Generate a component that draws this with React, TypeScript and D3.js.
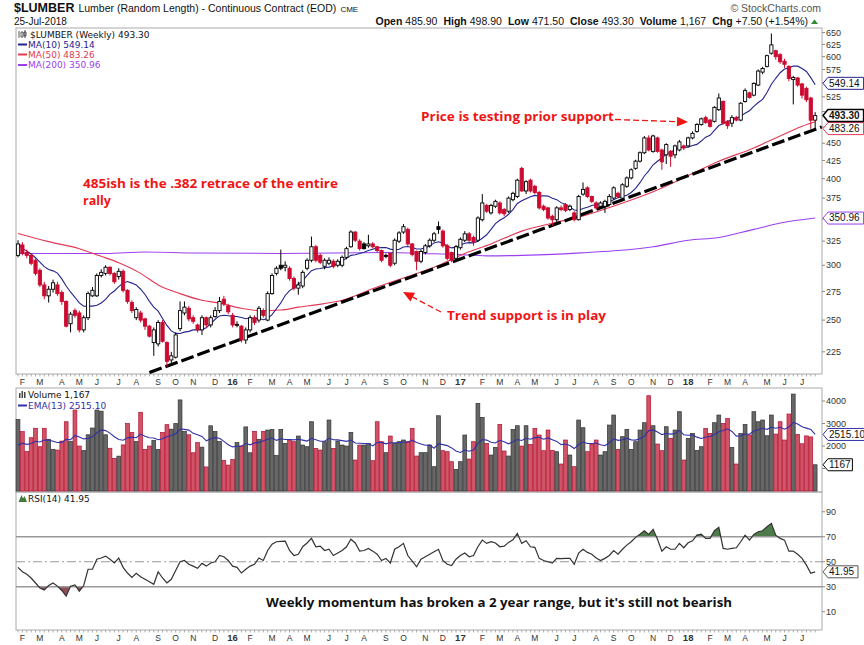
import React, { useRef, useEffect } from "react";
import * as d3 from "d3";

// weekly bars start on Monday 26-Jan-2015
const firstWeek = new Date(2015, 0, 26);

// [open, high, low, close]
const bars2015 = [
  [310, 326, 308, 322], [321, 324, 310, 312], [313, 316, 307, 310], [310, 312, 300, 302], [305, 307, 290, 292],
  [295, 297, 279, 281], [281, 284, 268, 271], [271, 280, 265, 277], [277, 286, 274, 283], [281, 284, 271, 273],
  [274, 276, 263, 266], [266, 267, 244, 245], [247, 257, 240, 255], [258, 260, 252, 254], [256, 258, 240, 242],
  [242, 254, 240, 252], [252, 275, 250, 273], [271, 279, 270, 276], [271, 292, 270, 290], [290, 296, 288, 293],
  [292, 300, 290, 298], [298, 299, 290, 292], [292, 293, 282, 284], [289, 297, 286, 294], [294, 296, 274, 276],
  [276, 277, 264, 266], [265, 267, 256, 258], [252, 261, 250, 259], [256, 258, 248, 250], [251, 252, 242, 245],
  [245, 246, 236, 237], [232, 244, 222, 242], [231, 250, 229, 248], [248, 250, 232, 233], [232, 233, 214, 218],
  [219, 225, 216, 222], [221, 240, 220, 238], [243, 266, 241, 258], [256, 266, 254, 261], [260, 262, 249, 251],
  [252, 254, 247, 249], [246, 247, 240, 242], [242, 254, 238, 252], [252, 253, 244, 246], [246, 254, 244, 252],
  [253, 261, 252, 258], [258, 270, 256, 266], [268, 271, 262, 264], [262, 264, 255, 257],
];
const bars2016 = [
  [254, 256, 244, 246], [246, 249, 244, 246.5], [245, 246, 232, 234], [234, 244, 231, 242], [242, 254, 240, 252],
  [252, 254, 246, 248], [250, 262, 248, 260], [258, 260, 252, 254], [250, 275, 249, 273], [273, 292, 272, 290],
  [292, 299, 290, 297], [300, 316, 295, 297], [298, 304, 294, 300], [297, 299, 285, 287], [287, 289, 276, 278],
  [278, 284, 272, 281], [280, 295, 278, 293], [297, 307, 295, 305], [305, 330, 303, 319], [319, 321, 303, 305],
  [310, 312, 301, 303], [299, 307, 296, 305], [302, 308, 300, 305], [304, 306, 297, 299], [300, 306, 298, 304],
  [300, 310, 298, 308], [308, 319, 306, 317], [319, 337, 318, 335], [335, 336, 324, 326], [325, 327, 315, 317],
  [322, 324, 316, 317], [320, 332, 318, 322], [322, 324, 317, 319], [319, 320, 313, 315], [315, 316, 303, 305],
  [310, 312, 307, 309], [312, 313, 298, 300], [302, 328, 300, 326], [325, 336, 323, 334], [335, 344, 333, 341],
  [338, 340, 320, 322], [322, 323, 309, 311], [314, 315, 295, 304], [304, 316, 302, 314], [313, 322, 311, 320],
  [320, 328, 318, 326], [326, 335, 324, 333], [341, 347, 333, 338], [336, 338, 318, 320], [320, 322, 305, 307],
  [313, 314, 303, 305], [307, 321, 305, 319],
];
const bars2017 = [
  [318, 329, 316, 327], [326, 336, 324, 333], [333, 335, 324, 326], [329, 331, 320, 324], [326, 353, 324, 351],
  [349, 380, 347, 369], [366, 368, 357, 359], [357, 368, 355, 366], [365, 373, 363, 371], [369, 371, 355, 357],
  [361, 363, 353, 356], [359, 377, 357, 375], [373, 383, 371, 381], [377, 400, 375, 398], [414, 416, 383, 384],
  [384, 398, 380, 396], [398, 400, 382, 384], [390, 392, 380, 382], [382, 384, 361, 363], [365, 367, 359, 361],
  [363, 364, 349, 351], [353, 355, 342, 349], [349, 365, 344, 363], [363, 366, 359, 361], [367, 369, 358, 360],
  [361, 367, 359, 365], [357, 359, 347, 349], [349, 379, 348, 377], [380, 395, 378, 386], [388, 390, 375, 377],
  [377, 378, 369, 371], [369, 371, 361, 363], [365, 371, 363, 369], [365, 373, 357, 371], [367, 380, 365, 377],
  [375, 390, 373, 388], [381, 383, 375, 377], [375, 394, 373, 392], [390, 403, 388, 401], [401, 414, 399, 412],
  [414, 426, 412, 424], [424, 438, 422, 436], [436, 461, 434, 458], [458, 462, 438, 440], [438, 463, 436, 461],
  [458, 460, 436, 438], [440, 442, 412, 423], [433, 450, 420, 448], [438, 440, 416, 431], [433, 448, 428, 446],
  [440, 455, 438, 452], [446, 448, 440, 443],
];
const bars2018 = [
  [446, 460, 444, 458], [458, 468, 456, 465], [468, 481, 466, 479], [479, 490, 477, 488], [490, 493, 480, 482],
  [486, 488, 474, 476], [484, 509, 482, 507], [503, 531, 501, 523], [517, 519, 479, 481], [484, 486, 472, 477],
  [481, 494, 475, 490], [490, 493, 484, 486], [486, 516, 484, 514], [517, 540, 515, 536], [532, 534, 522, 524],
  [528, 551, 526, 549], [546, 575, 544, 572], [570, 580, 566, 577], [581, 604, 579, 602], [607, 648, 604, 624],
  [612, 614, 594, 600], [604, 607, 586, 590], [591, 596, 578, 585], [581, 583, 553, 558], [556, 563, 512, 560],
  [559, 561, 543, 546], [548, 550, 522, 528], [540, 543, 516, 520], [523, 525, 472, 485.8], [485.9, 498.9, 471.5, 493.3],
];

const volume2015 = [
  3180, 2640, 1750, 2370, 2790, 1970, 2790, 2300, 1850, 1820, 2220, 3080, 2200, 3600, 2000, 1800, 2500,
  2800, 3600, 3550, 2500, 1900, 1450, 1550, 2050, 3000, 2600, 2200, 3500, 1850, 2000, 2250, 1850, 2600,
  2950, 2750, 3000, 4050, 2650, 2500, 1700, 2150, 1950, 1070, 2900, 2650, 2200, 1350, 1150,
];
const volume2016 = [
  1400, 2150, 2000, 2850, 1700, 2650, 2300, 2650, 2711, 2741, 1580, 2741, 2119, 2267, 2193, 2444, 2044,
  1970, 3081, 1896, 1822, 2193, 3156, 1896, 2222, 2044, 2000, 2607, 1378, 2044, 2044, 2119, 1348, 3081,
  2193, 1704, 2444, 2119, 2193, 2267, 2193, 2785, 1556, 1704, 1704, 2044, 1080, 3346, 1793, 1748, 1304, 964,
];
const volume2017 = [
  1304, 2489, 1422, 2193, 3896, 3274, 2119, 1600, 1940, 2963, 1778, 1556, 2741, 2903, 2000, 2903, 2074,
  2785, 2489, 1793, 2711, 1807, 1748, 1200, 2267, 1600, 1081, 3156, 2815, 1748, 2089, 2267, 1600, 1748,
  2933, 3378, 1852, 2415, 2741, 1852, 2193, 2711, 3037, 4237, 2903, 2089, 1793, 2859, 2341, 2711, 3526, 1378,
];
const volume2018 = [
  2341, 2563, 1807, 1970, 2785, 2563, 3037, 3378, 3007, 3230, 1941, 1200, 2563, 2963, 2489, 3526, 3081,
  3156, 2459, 3378, 2533, 3081, 2267, 3422, 4311, 2518, 2100, 2450, 2405, 1167,
];
const volumeEmaStart = 1850;

const rsi2015 = [
  45.5, 42, 40, 37, 33, 29, 27.3, 31, 33, 30.5, 27, 22.5, 30.5, 31.5, 26.5, 31, 44, 44, 52, 53, 54.5, 52,
  49, 53, 45.5, 41, 37.5, 40.7, 38, 36, 34, 32, 42, 37, 33, 36, 43, 50, 51, 48, 46.5, 44.7, 48.7, 46.5,
  49, 50, 55, 54, 51,
];
const rsi2016 = [
  46.5, 45.5, 41, 44, 46.5, 48, 53, 51, 59, 64, 66, 66.3, 66.5, 59, 55, 56, 62, 65, 68.7, 62, 62.5, 59,
  60, 55, 57, 59, 62, 68, 65, 58.5, 59, 60.7, 58.5, 56, 51, 52.7, 49, 60, 62, 64.7, 55, 50.5, 46, 52, 54,
  56, 58, 60, 51, 48, 47, 52,
];
const rsi2017 = [
  55, 57, 54, 55, 62, 67.3, 64.7, 66, 65, 62, 62.5, 65.5, 67.5, 72.7, 64.7, 66.8, 62, 61.5, 52.7, 51, 50,
  49, 52.7, 52.5, 52.7, 52.7, 48, 57, 60, 57.5, 56, 53, 51, 52.7, 55, 59, 56, 60, 63.3, 66, 69.5, 72,
  74.8, 71.9, 75.9, 68, 58.5, 62, 60, 60, 64.7, 61.2,
];
const rsi2018 = [
  65.2, 66.8, 71.3, 72, 68.7, 68.7, 74.8, 77.5, 60.7, 60, 60.7, 61.2, 66, 71.3, 67.3, 71.9, 74, 74.8, 78,
  80.7, 71.3, 68.7, 67.3, 58.5, 58.5, 56, 52.7, 47.3, 40.7, 41.95,
];

// moving averages as [week, value]
const ma50Points: [number, number][] = [
  [0, 333.5], [7, 324.5], [14, 317], [19, 309], [23, 302.5], [28, 292], [32, 281], [37, 273], [42, 267],
  [46, 264.5], [51, 260], [55, 258], [60, 258.5], [64, 261], [68, 263], [74, 267], [82, 279], [89, 289],
  [95, 298], [102, 312], [108, 322], [115, 336], [122, 345], [128, 352], [137, 367], [145, 383], [153, 404],
  [160, 424], [168, 443], [172, 455], [176, 467], [179, 476], [182, 483.26],
];
const ma200Points: [number, number][] = [
  [0, 312], [20, 312], [29, 313.5], [40, 312.5], [60, 312], [85, 313], [92, 312], [100, 311], [107, 309.5],
  [115, 310], [122, 311], [130, 313], [137, 315], [145, 319], [153, 326], [160, 329], [168, 338], [175, 346],
  [182, 350.96],
];
const trendLine: [number, number][] = [[30, 210], [183.5, 475]];

const priceTicks = [225, 250, 275, 300, 325, 350, 375, 400, 425, 450, 475, 500, 525, 550, 575, 600, 625, 650];
const volumeTicks = [1000, 2000, 3000, 4000];
const rsiTicks = [10, 30, 50, 70, 90];
const quote = [["Open", "485.90"], ["High", "498.90"], ["Low", "471.50"], ["Close", "493.30"], ["Volume", "1,167"], ["Chg", "+7.50 (+1.54%)"]];

const RED = "#cc0a2f";
const MA10_COLOR = "#24248f";
const MA50_COLOR = "#e23a55";
const MA200_COLOR = "#9b3ff0";
const NOTE_RED = "#f01515";
const FONT = "'Liberation Sans', Arial, sans-serif";
const LEGEND_FONT = "'DejaVu Sans', Verdana, sans-serif";
const NOTE_FONT = "'Open Sans', 'Noto Sans', sans-serif";

const left = 16, right = 822;
const priceTop = 28, priceBottom = 374;
const volTop = 388, volBottom = 492;
const rsiTop = 492, rsiBottom = 630;

const App: React.FC = () => {
  const chartRef = useRef<SVGSVGElement | null>(null);

  useEffect(() => {
    if (!chartRef.current) return;
    const svg = d3.select(chartRef.current);
    svg.selectAll("*").remove();

    const bars = [...bars2015, ...bars2016, ...bars2017, ...bars2018];
    const volume = [...volume2015, ...volume2016, ...volume2017, ...volume2018];
    const rsi = [...rsi2015, ...rsi2016, ...rsi2017, ...rsi2018];
    const closes = bars.map((b) => b[3]);
    const dates = bars.map((_, i) => d3.timeDay.offset(firstWeek, i * 7));
    const weekTime = (w: number) => new Date(firstWeek.getTime() + w * 7 * 864e5);

    const x = d3.scaleTime().domain([weekTime(-0.457), weekTime(183.56)]).range([left, right]);
    const yPrice = d3.scaleLog().domain([209, 660]).range([priceBottom, priceTop]);
    const yVol = d3.scaleLinear().domain([0, 4580]).range([491, volTop]);
    const yRsi = d3.scaleLinear().domain([-4.6, 105.8]).range([rsiBottom, rsiTop]);

    const isUp = (i: number) => (i === 0 ? bars[0][3] >= bars[0][0] : bars[i][3] >= bars[i - 1][3]);

    let e = volumeEmaStart;
    const ema = volume.map((v) => (e = e + (2 / 14) * (v - e)));
    const lastEma = ema[ema.length - 1];
    const lastVol = volume[volume.length - 1];
    const lastRsi = rsi[rsi.length - 1];

    svg.append("rect").attr("width", 864).attr("height", 645).attr("fill", "#fff");

    const defs = svg.append("defs");
    const clip = (id: string, y0: number, y1: number) =>
      defs.append("clipPath").attr("id", id).append("rect")
        .attr("x", left).attr("y", y0).attr("width", right - left).attr("height", y1 - y0);
    clip("clipPrice", priceTop, priceBottom);
    clip("clipAbove70", rsiTop, yRsi(70));
    clip("clipBelow30", yRsi(30), rsiBottom);

    // ---- header ----
    const title = svg.append("text").attr("x", 14).attr("y", 12).attr("font-family", FONT).attr("fill", "#111");
    title.append("tspan").attr("font-size", 12.5).attr("font-weight", "bold").text("$LUMBER");
    title.append("tspan").attr("font-size", 10.5).attr("dx", 4).text("Lumber (Random Length) - Continuous Contract (EOD)");
    title.append("tspan").attr("font-size", 8).attr("dx", 4).text("CME");
    svg.append("text").attr("x", 14).attr("y", 25).attr("font-family", FONT).attr("font-size", 10)
      .attr("fill", "#111").text("25-Jul-2018");
    svg.append("text").attr("x", 821).attr("y", 12).attr("text-anchor", "end").attr("font-family", FONT)
      .attr("font-size", 10.5).attr("fill", "#555").text("\u00a9 StockCharts.com");
    const q = svg.append("text").attr("x", 808).attr("y", 25).attr("text-anchor", "end")
      .attr("font-family", FONT).attr("font-size", 10.5).attr("fill", "#111");
    quote.forEach(([k, v], i) => {
      q.append("tspan").attr("font-weight", "bold").attr("dx", i === 0 ? 0 : 6).text(k);
      q.append("tspan").attr("dx", 3).text(v);
    });
    svg.append("path").attr("d", "M811,24 L818,24 L814.5,19.5 Z").attr("fill", "#2e8b2e");

    // ---- panel frames ----
    [[priceTop, priceBottom], [volTop, volBottom], [rsiTop, rsiBottom]].forEach(([a, b]) =>
      svg.append("rect").attr("x", left).attr("y", a).attr("width", right - left).attr("height", b - a)
        .attr("fill", "none").attr("stroke", "#aaa"));

    // ---- date strips ----
    const months = d3.timeMonth.range(new Date(2015, 1, 1), new Date(2018, 7, 1));
    const monthTicks = months.map((m) => ({ m, i: dates.findIndex((d) => d >= m) })).filter((t) => t.i >= 0);
    [priceBottom, rsiBottom].forEach((row) => {
      const g = svg.append("g");
      g.selectAll("line.w").data(dates).join("line")
        .attr("x1", (d) => x(d)).attr("x2", (d) => x(d)).attr("y1", row).attr("y2", row + 2.5)
        .attr("stroke", "#999").attr("stroke-width", 0.8);
      g.selectAll("text").data(monthTicks).join("text")
        .attr("x", (t) => x(dates[t.i])).attr("y", row + 10.5).attr("text-anchor", "middle")
        .attr("font-family", FONT).attr("font-size", (t) => (t.m.getMonth() === 0 ? 9.5 : 8.5))
        .attr("font-weight", (t) => (t.m.getMonth() === 0 ? "bold" : "normal")).attr("fill", "#333")
        .text((t) => (t.m.getMonth() === 0 ? d3.timeFormat("%y")(t.m) : d3.timeFormat("%b")(t.m)[0]));
    });

    // ---- right axes (labels hidden where a value tag sits on top, as in the original) ----
    const axis = (ticks: number[], scale: (v: number) => number, tagValues: number[]) => {
      const tagYs = tagValues.map(scale);
      ticks.forEach((v) => {
        const yv = scale(v);
        svg.append("line").attr("x1", right).attr("x2", right + 3).attr("y1", yv).attr("y2", yv).attr("stroke", "#888");
        if (tagYs.some((t) => Math.abs(t - yv) < 8)) return;
        svg.append("text").attr("x", right + 4).attr("y", yv + 3.2).attr("font-family", FONT)
          .attr("font-size", 9).attr("fill", "#333").text(String(v));
      });
    };
    axis(priceTicks, yPrice, [350.96, 549.14, 483.26, 493.3]);
    axis(volumeTicks, yVol, [lastEma, lastVol]);
    axis(rsiTicks, yRsi, [lastRsi]);

    // ---- price panel ----
    const priceG = svg.append("g").attr("clip-path", "url(#clipPrice)");
    const lineIdx = d3.line<number>().x((_, i) => x(dates[i])).y((d) => yPrice(d));
    const linePts = d3.line<[number, number]>().x((p) => x(weekTime(p[0]))).y((p) => yPrice(p[1]));

    priceG.append("path").datum(ma200Points).attr("d", linePts.curve(d3.curveMonotoneX))
      .attr("fill", "none").attr("stroke", MA200_COLOR).attr("stroke-width", 1.1);
    priceG.append("path").datum(ma50Points).attr("d", linePts.curve(d3.curveMonotoneX))
      .attr("fill", "none").attr("stroke", MA50_COLOR).attr("stroke-width", 1.1);
    const ma10 = closes.map((_, i) => d3.mean(closes.slice(Math.max(0, i - 9), i + 1)) as number);
    priceG.append("path").datum(ma10).attr("d", lineIdx)
      .attr("fill", "none").attr("stroke", MA10_COLOR).attr("stroke-width", 1.1);

    priceG.append("path").datum(trendLine).attr("d", linePts.curve(d3.curveLinear))
      .attr("fill", "none").attr("stroke", "#000").attr("stroke-width", 3.2).attr("stroke-dasharray", "13,4");

    const candle = priceG.selectAll("g.c").data(bars).join("g").attr("class", "c");
    candle.append("line")
      .attr("x1", (_, i) => x(dates[i])).attr("x2", (_, i) => x(dates[i]))
      .attr("y1", (b) => yPrice(b[1])).attr("y2", (b) => yPrice(b[2]))
      .attr("stroke", (_, i) => (isUp(i) ? "#000" : RED)).attr("stroke-width", 1);
    candle.append("rect")
      .attr("x", (_, i) => x(dates[i]) - 1.6).attr("width", 3.2)
      .attr("y", (b) => yPrice(Math.max(b[0], b[3])))
      .attr("height", (b) => Math.max(1, yPrice(Math.min(b[0], b[3])) - yPrice(Math.max(b[0], b[3]))))
      .attr("fill", (b, i) => (b[3] < b[0] ? (isUp(i) ? "#000" : RED) : "#fff"))
      .attr("stroke", (_, i) => (isUp(i) ? "#000" : RED)).attr("stroke-width", 0.9);

    // ---- volume panel ----
    svg.append("g").selectAll("rect").data(volume).join("rect")
      .attr("x", (_, i) => x(dates[i]) - 1.9).attr("width", 3.8)
      .attr("y", (v) => yVol(v)).attr("height", (v) => yVol(0) - yVol(v))
      .attr("fill", (_, i) => (isUp(i) ? "#676767" : "#cf5468"))
      .attr("stroke", (_, i) => (isUp(i) ? "#333" : "#b3102e")).attr("stroke-width", 0.7);
    svg.append("path").datum(ema).attr("d", d3.line<number>().x((_, i) => x(dates[i])).y((d) => yVol(d)))
      .attr("fill", "none").attr("stroke", "#3030a8").attr("stroke-width", 1.1);

    // ---- RSI panel ----
    const rsiArea = (level: number) =>
      d3.area<number>().x((_, i) => x(dates[i])).y0(yRsi(level)).y1((d) => yRsi(d));
    svg.append("path").datum(rsi).attr("d", rsiArea(70)).attr("fill", "#4d7b49").attr("clip-path", "url(#clipAbove70)");
    svg.append("path").datum(rsi).attr("d", rsiArea(30)).attr("fill", "#8e4d52").attr("clip-path", "url(#clipBelow30)");
    [70, 30].forEach((v) =>
      svg.append("line").attr("x1", left).attr("x2", right).attr("y1", yRsi(v)).attr("y2", yRsi(v))
        .attr("stroke", "#999").attr("stroke-width", 1.3));
    svg.append("line").attr("x1", left).attr("x2", right).attr("y1", yRsi(50)).attr("y2", yRsi(50))
      .attr("stroke", "#999").attr("stroke-width", 1.1).attr("stroke-dasharray", "9,3,2,3");
    svg.append("path").datum(rsi).attr("d", d3.line<number>().x((_, i) => x(dates[i])).y((d) => yRsi(d)))
      .attr("fill", "none").attr("stroke", "#333").attr("stroke-width", 1.2);

    // ---- value tags on the right ----
    const tag = (yv: number, label: string, color: string, bold = false) => {
      const w = label.length * 5.6 + 8;
      svg.append("path").attr("d", `M${right + 1},${yv}L${right + 6},${yv - 6}H${right + w}V${yv + 6}H${right + 6}Z`)
        .attr("fill", "#fff").attr("stroke", color).attr("stroke-width", bold ? 1.5 : 1);
      svg.append("text").attr("x", right + 7).attr("y", yv + 3.4).attr("font-family", FONT).attr("font-size", 10)
        .attr("font-weight", bold ? "bold" : "normal").attr("fill", "#111").text(label);
    };
    const closeY = yPrice(493.3);
    tag(yPrice(350.96), "350.96", MA200_COLOR);
    tag(yPrice(549.14), "549.14", MA10_COLOR);
    // the MA(50) tag sits just under the last-price tag
    tag(Math.max(yPrice(483.26), closeY + 13), "483.26", MA50_COLOR);
    tag(closeY, "493.30", "#000", true);
    tag(yVol(lastEma), d3.format(".2f")(lastEma), "#3030a8");
    tag(yVol(lastVol), String(lastVol), "#000");
    tag(yRsi(lastRsi), d3.format(".2f")(lastRsi), "#555");

    // ---- legends ----
    const legend = (xx: number, yy: number, label: string, color: string, dash?: string) => {
      if (dash) svg.append("line").attr("x1", 18).attr("x2", 27).attr("y1", yy - 3).attr("y2", yy - 3)
        .attr("stroke", dash).attr("stroke-width", 2);
      svg.append("text").attr("x", xx).attr("y", yy).attr("font-family", LEGEND_FONT).attr("font-size", 9)
        .attr("fill", color).text(label);
    };
    svg.append("path").attr("d", "M19,31v7M21,32h2v5h-2zM25,30v8M24,32h2v4h-2z").attr("stroke", "#333")
      .attr("fill", "none").attr("stroke-width", 0.8);
    legend(30, 37.5, "$LUMBER (Weekly) 493.30", "#111");
    legend(28, 47.5, "MA(10) 549.14", MA10_COLOR, MA10_COLOR);
    legend(28, 57.5, "MA(50) 483.26", MA50_COLOR, MA50_COLOR);
    legend(28, 68, "MA(200) 350.96", MA200_COLOR, MA200_COLOR);
    svg.append("path").attr("d", "M19,398v-5h1.5v5zM21.5,398v-7h1.5v7zM24,398v-6h1.5v6z").attr("fill", "#444");
    legend(28, 398, "Volume 1,167", "#111");
    legend(28, 408.5, `EMA(13) ${d3.format(".2f")(lastEma)}`, "#3030a8", "#3030a8");
    svg.append("path").attr("d", "M18.5,502 L21.5,495 L23,498.5 L24.5,496 L27,502 Z").attr("fill", "#3f7a3f");
    legend(28, 501.5, `RSI(14) ${d3.format(".2f")(lastRsi)}`, "#111");

    // ---- annotations ----
    const note = (xx: number, yy: number, text: string, width: number, color: string, size = 12) =>
      svg.append("text").attr("x", xx).attr("y", yy).attr("font-family", NOTE_FONT).attr("font-weight", "bold")
        .attr("font-size", size).attr("fill", color).attr("textLength", width)
        .attr("lengthAdjust", "spacingAndGlyphs").text(text);
    note(83, 187.5, "485ish is the .382 retrace of the entire", 255, NOTE_RED);
    note(83, 204.5, "rally", 28, NOTE_RED);
    note(421, 121, "Price is testing prior support", 193, NOTE_RED, 12.5);
    note(447, 320, "Trend support is in play", 159, NOTE_RED, 12.5);
    note(266, 607, "Weekly momentum has broken a 2 year range, but it's still not bearish", 466, "#111", 13);

    const arrow = (x1: number, y1: number, x2: number, y2: number) => {
      const len = Math.hypot(x2 - x1, y2 - y1);
      const ux = (x2 - x1) / len, uy = (y2 - y1) / len;
      const bx = x2 - ux * 11, by = y2 - uy * 11;
      svg.append("line").attr("x1", x1).attr("y1", y1).attr("x2", bx).attr("y2", by)
        .attr("stroke", NOTE_RED).attr("stroke-width", 1.3).attr("stroke-dasharray", "6,3");
      svg.append("path")
        .attr("d", `M${x2},${y2}L${bx - uy * 5},${by + ux * 5}L${bx + uy * 5},${by - ux * 5}Z`)
        .attr("fill", NOTE_RED);
    };
    arrow(615, 119.5, 688, 122);
    arrow(441, 312, 403, 292);
  }, []);

  return (
    <svg
      ref={chartRef}
      width={864}
      height={645}
      style={{ position: "absolute", left: 0, top: 0, display: "block" }}
    />
  );
};

export default App;
